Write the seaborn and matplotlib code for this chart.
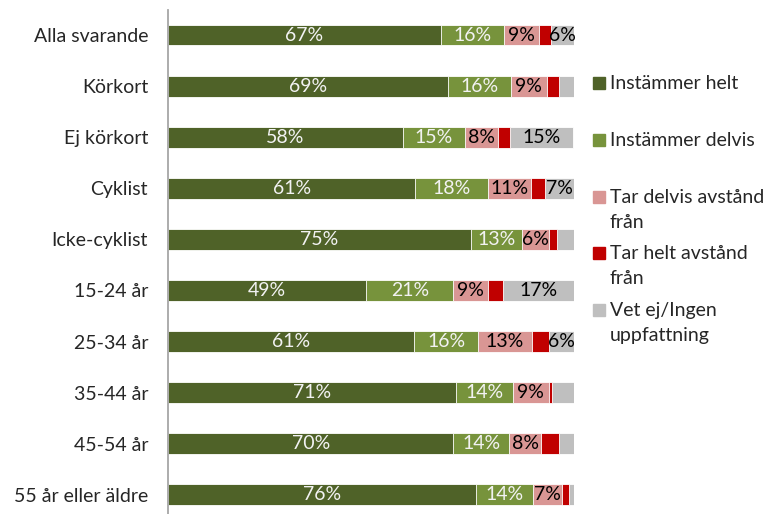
import matplotlib.pyplot as plt
import matplotlib
import numpy as np
import seaborn as sns
from matplotlib.patches import Rectangle

sns.set_style("white")
matplotlib.rc('font', family=['Lato', 'DejaVu Sans'], size=14)

groups = ['Alla svarande', 'Körkort', 'Ej körkort', 'Cyklist', 'Icke-cyklist',
          '15-24 år', '25-34 år', '35-44 år', '45-54 år', '55 år eller äldre']
series = ['Instämmer helt', 'Instämmer delvis', 'Tar delvis avstånd\nfrån',
          'Tar helt avstånd\nfrån', 'Vet ej/Ingen\nuppfattning']

helt = [67.2, 69.0, 57.9, 60.9, 74.6, 48.9, 60.6, 70.9, 70.3, 75.9]
delvis = [15.6, 15.5, 15.3, 18.0, 12.7, 21.4, 15.9, 14.1, 13.8, 14.0]
tar_delvis = [8.6, 8.9, 8.1, 10.6, 6.5, 8.6, 13.1, 8.9, 7.8, 7.1]
tar_helt = [2.9, 2.9, 3.1, 3.5, 2.1, 3.7, 4.3, 0.8, 4.5, 1.8]
vet_ej = [5.7, 3.7, 15.4, 7.0, 4.1, 17.4, 6.1, 5.3, 3.6, 1.2]

colors = ['#4F6228', '#77933C', '#D99694', '#C00000', '#BFBFBF']
text_colors = ['#F2F2F2', '#F2F2F2', 'black', 'black', 'black']

vals = np.array([helt, delvis, tar_delvis, tar_helt, vet_ej])
cum = vals.cumsum(axis=0)

fig = plt.figure(figsize=[7.68, 5.14], dpi=100)
ax = fig.add_axes([0.219, -0.012, 0.528, 0.993])

# stacked bars: draw cumulative totals from the outermost segment inwards
for k in range(len(series) - 1, -1, -1):
    sns.barplot(x=cum[k], y=groups, color=colors[k], orient='h', width=0.4,
                edgecolor='white', linewidth=0.6, saturation=1, ax=ax)

for k in range(len(series)):
    for i, v in enumerate(vals[k]):
        if round(v) >= 6:
            ax.text(cum[k][i] - v / 2, i, f'{v:.0f}%', ha='center', va='center',
                    color=text_colors[k], fontsize=14)

ax.set_xlim(0, 100)
ax.set_ylim(len(groups) - 0.5, -0.5)
ax.set(xlabel=None, ylabel=None)
ax.set_xticks([])
ax.tick_params(axis='y', length=0, pad=14.5, labelsize=14)
sns.despine(ax=ax, top=True, right=True, bottom=True)
ax.spines['left'].set_color('#A6A6A6')
ax.spines['left'].set_linewidth(1.3)

# legend laid out like the original (marker beside the first text line)
leg_y = [83, 140, 197, 253, 310]
for k, lab in enumerate(series):
    y = 1 - leg_y[k] / 514
    fig.patches.append(Rectangle((593 / 768, y - 6 / 514), 12 / 768, 12 / 514,
                                 transform=fig.transFigure, color=colors[k]))
    fig.text(610 / 768, y + 8 / 514, lab, ha='left', va='top', fontsize=14,
             linespacing=1.55)

plt.savefig('out.png', dpi=100)
plt.close(fig)
